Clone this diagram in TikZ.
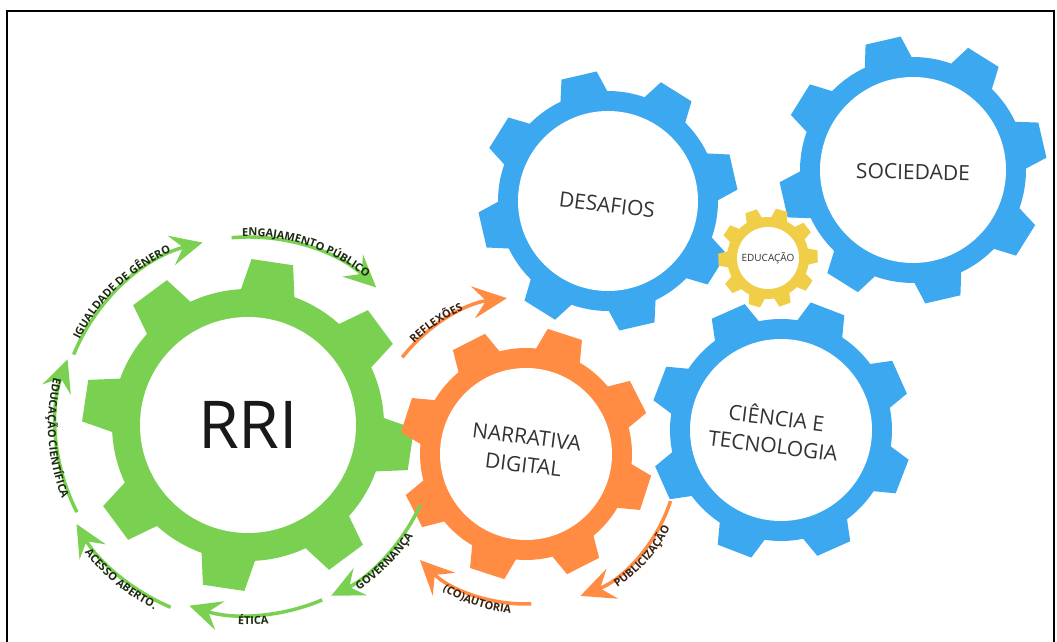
\documentclass[tikz,border=0pt]{standalone}
\usepackage{fontspec}
\setmainfont{Open Sans}
\usetikzlibrary{calc,arrows.meta,decorations.text}
\definecolor{ggreen}{HTML}{7AD151}
\definecolor{gorange}{HTML}{FF8C42}
\definecolor{gblue}{HTML}{3BA8F0}
\definecolor{gyellow}{HTML}{F1CE48}
\definecolor{gtxt}{HTML}{333333}
\definecolor{greentxt}{HTML}{1C2A12}
\definecolor{orangetxt}{HTML}{3A2212}
\newcommand{\gfont}{\fontsize{11}{11}\selectfont\bfseries\color{greentxt}}
\newcommand{\ofont}{\fontsize{11}{11}\selectfont\bfseries\color{orangetxt}}
\def\gearn{8}
% #1 name, #2 colour, #3 centre, #4 inner r, #5 body r, #6 tip r, #7 phase, #8 base half width, #9 tip half width
\newcommand{\mygear}[9]{%
  \coordinate (#1) at (#3);
  \pgfmathsetmacro\gbh{asin(#8/#5)}%
  \pgfmathsetmacro\gth{asin(#9/#6)}%
  \pgfmathsetmacro\gstep{360/\gearn}%
  \pgfmathtruncatemacro\glast{\gearn-1}%
  \fill[#2] ($(#1)+({#7-\gbh}:#5)$)
    \foreach \k [evaluate=\k as \a using #7+\gstep*\k,
                 evaluate=\k as \s using #7+\gstep*\k+\gbh,
                 evaluate=\k as \e using #7+\gstep*\k+\gstep-\gbh] in {0,...,\glast}{
      -- ($(#1)+({\a-\gbh}:#5)$) -- ($(#1)+({\a-\gth}:#6)$) -- ($(#1)+({\a+\gth}:#6)$) -- ($(#1)+(\s:#5)$)
      arc[start angle=\s, end angle=\e, radius=#5]
    } -- cycle;
  \fill[white] (#1) circle[radius=#4];
}
\begin{document}
\begin{tikzpicture}[x=1pt,y=1pt,
  glab/.style={font=\fontsize{21}{28}\selectfont, text=gtxt, align=center},
  garc/.style={draw=ggreen, line width=3.5pt, -{Stealth[length=32pt,width=30pt,inset=12pt]}},
  oarc/.style={draw=gorange, line width=3.5pt, -{Stealth[length=34pt,width=32pt,inset=13pt]}},
  ctext/.style={decorate, decoration={text along path, text align=center, text={#1}}}
]
\useasboundingbox (0,0) rectangle (1057,642);
\fill[white] (0,0) rectangle (1057,642);
\draw[line width=2pt] (6.5,-5) -- (6.5,630.5) -- (1054,630.5) -- (1054,-5);

% gears
\mygear{D}{gblue}{608,441}{90}{110}{130}{103}{24}{18}
\mygear{S}{gblue}{913,472}{93}{113}{134}{103}{24}{18}
\mygear{C}{gblue}{781,212}{91}{111}{131}{114}{24}{18}
\def\gearn{10}
\mygear{E}{gyellow}{768,384}{31}{41}{50}{110}{8}{6}
\def\gearn{8}
\mygear{G}{ggreen}{248,217}{108}{136}{166}{81.5}{27}{21}
\mygear{O}{gorange}{526,188}{86}{106}{127}{27}{23}{18}

% gear labels
\node[font=\fontsize{66}{70}\selectfont, text=black!90] (rri) at (G) {RRI};
\node[glab, rotate=-7] (narr) at (525,191) {NARRATIVA\\DIGITAL};
\node[glab, rotate=-7] (desa) at (607,437) {DESAFIOS};
\node[glab, rotate=-1] (soc) at (913,470) {SOCIEDADE};
\node[glab, rotate=-7] (cien) at (775,212) {CIÊNCIA E\\TECNOLOGIA};
\node[font=\fontsize{10}{10}\selectfont, text=gtxt] (edu) at (768,384) {EDUCAÇÃO};

% green curved arrows
\draw[garc] ($(G)+(158:188)$) arc[start angle=158, end angle=104, radius=188];
\draw[garc] ($(G)+(207:192)$) arc[start angle=207, end angle=160, radius=192];
\draw[garc] ($(G)+(247:198)$) arc[start angle=247, end angle=210, radius=198];
\draw[garc] ($(G)+(293:190)$) arc[start angle=293, end angle=252, radius=190];
\draw[garc] ($(G)+(335:190)$) arc[start angle=335, end angle=296, radius=190];
\draw[garc] ($(G)+(95:188)$) arc[start angle=95, end angle=47, radius=188];
% orange curved arrows
\draw[oarc] ($(O)+(142:157)$) arc[start angle=142, end angle=97, radius=157];
\draw[oarc] ($(O)+(342:152)$) arc[start angle=342, end angle=291, radius=152];
\draw[oarc] ($(O)+(272:150)$) arc[start angle=272, end angle=225, radius=150];

% green curved texts
\path[ctext={|\gfont|IGUALDADE DE GÊNERO}] ($(G)+(160:189)$) arc[start angle=160, end angle=107, radius=189];
\path[ctext={|\gfont|ENGAJAMENTO PÚBLICO}] ($(G)+(100:189)$) arc[start angle=100, end angle=43, radius=189];
\path[ctext={|\gfont|EDUCAÇÃO CIENTÍFICA}] ($(G)+(160:200)$) arc[start angle=160, end angle=208, radius=200];
\path[ctext={|\gfont|ACESSO ABERTO.}] ($(G)+(212:207)$) arc[start angle=212, end angle=249, radius=207];
\path[ctext={|\gfont|ÉTICA}] ($(G)+(260:200)$) arc[start angle=260, end angle=283, radius=200];
\path[ctext={|\gfont|GOVERNANÇA}] ($(G)+(295:199)$) arc[start angle=295, end angle=335, radius=199];
% orange curved texts
\path[ctext={|\ofont|REFLEXÕES}] ($(O)+(145:157)$) arc[start angle=145, end angle=104, radius=157];
\path[ctext={|\ofont|PUBLICIZAÇÃO}] ($(O)+(295:162)$) arc[start angle=295, end angle=342, radius=162];
\path[ctext={|\ofont|(CO)AUTORIA}] ($(O)+(228:160)$) arc[start angle=228, end angle=275, radius=160];
\end{tikzpicture}
\end{document}
